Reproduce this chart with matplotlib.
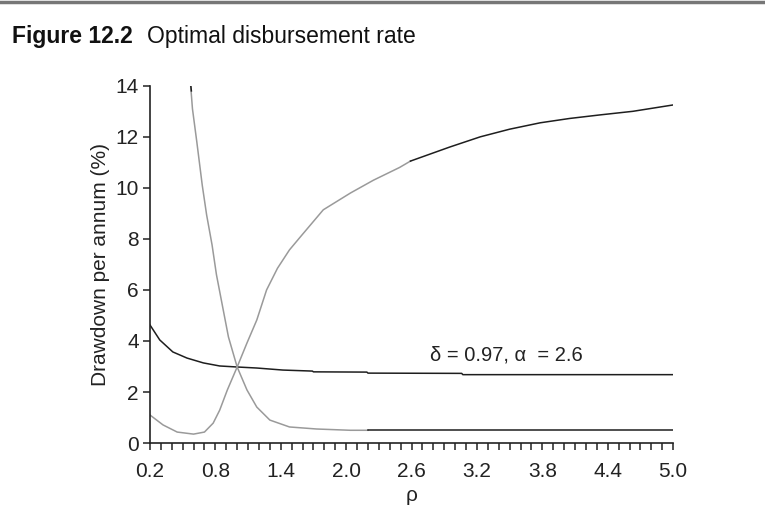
import matplotlib
matplotlib.use("Agg")
import matplotlib.pyplot as plt
from matplotlib.ticker import MultipleLocator, FixedLocator
from matplotlib.lines import Line2D

plt.rcParams['font.family'] = ['Liberation Sans', 'DejaVu Sans']

# Curve A: black, slowly declining (delta curve)
a_x = [0.20, 0.29, 0.41, 0.54, 0.69, 0.84, 1.00, 1.18, 1.42, 1.69, 1.70, 2.19, 2.20, 3.06, 3.07, 5.00]
a_y = [4.63, 4.04, 3.57, 3.33, 3.14, 3.02, 2.98, 2.94, 2.86, 2.82, 2.79, 2.78, 2.74, 2.73, 2.68, 2.68]

# Curve B: steeply declining (gray, then black flat tail)
b_x = [0.57, 0.59, 0.63, 0.68, 0.72, 0.77, 0.81, 0.86, 0.92, 1.00, 1.09, 1.18, 1.30, 1.48, 1.73, 2.04, 2.20]
b_y = [14.2, 13.1, 11.8, 10.1, 8.94, 7.76, 6.60, 5.49, 4.16, 2.98, 2.08, 1.41, 0.90, 0.63, 0.55, 0.50, 0.50]
b_tail_x = [2.20, 5.00]
b_tail_y = [0.50, 0.50]
b_top_x = [0.57, 0.58]
b_top_y = [14.2, 13.8]

# Curve C: U-shaped then rising (gray, then black)
c_x = [0.20, 0.32, 0.45, 0.60, 0.70, 0.78, 0.84, 0.91, 1.00, 1.09, 1.18, 1.27, 1.37, 1.48, 1.58, 1.79, 2.04, 2.25, 2.49, 2.59]
c_y = [1.10, 0.71, 0.43, 0.35, 0.43, 0.78, 1.29, 2.08, 2.98, 3.92, 4.82, 6.00, 6.85, 7.57, 8.08, 9.14, 9.80, 10.30, 10.80, 11.05]
c_tail_x = [2.59, 2.95, 3.23, 3.50, 3.78, 4.05, 4.33, 4.63, 5.00]
c_tail_y = [11.05, 11.60, 12.00, 12.30, 12.55, 12.72, 12.86, 13.00, 13.25]

x_labels = [0.2, 0.8, 1.4, 2.0, 2.6, 3.2, 3.8, 4.4, 5.0]
y_labels = [0, 2, 4, 6, 8, 10, 12, 14]

GRAY = '#9a9a9a'
BLACK = '#1e1e1e'
TXT = '#222222'

fig = plt.figure(figsize=(7.65, 5.2), dpi=100)
ax = fig.add_axes([0.196, 0.148, 0.684, 0.687])

ax.plot(a_x, a_y, color=BLACK, lw=1.1)
ax.plot(b_x, b_y, color=GRAY, lw=1.1)
ax.plot(b_top_x, b_top_y, color=BLACK, lw=1.1)
ax.plot(b_tail_x, b_tail_y, color=BLACK, lw=1.1)
ax.plot(c_x, c_y, color=GRAY, lw=1.1)
ax.plot(c_tail_x, c_tail_y, color=BLACK, lw=1.1)

ax.set_xlim(0.2, 5.0)
ax.set_ylim(0, 14)
ax.xaxis.set_major_locator(FixedLocator(x_labels))
ax.set_xticklabels([f"{v:.1f}" for v in x_labels])
ax.xaxis.set_minor_locator(MultipleLocator(0.1))
ax.yaxis.set_major_locator(FixedLocator(y_labels))
ax.set_yticklabels([str(v) for v in y_labels])

for s in ['top', 'right']:
    ax.spines[s].set_visible(False)
for s in ['left', 'bottom']:
    ax.spines[s].set_linewidth(1.2)
    ax.spines[s].set_color(TXT)

ax.tick_params(axis='both', which='both', direction='out', length=5, width=1.1,
               color=TXT, labelsize=15, labelcolor=TXT, pad=3)
ax.tick_params(axis='x', which='major', pad=9)
ax.tick_params(axis='y', which='minor', left=False)

ax.set_xlabel('ρ', fontsize=15, color=TXT, labelpad=3)
ax.set_ylabel('Drawdown per annum (%)', fontsize=15, color=TXT, labelpad=4)

ax.text(3.47, 3.45, 'δ = 0.97, α  = 2.6', fontsize=14.5, color=TXT,
        ha='center', va='center')

fig.text(12 / 765, 1 - 43 / 520, 'Figure 12.2', fontsize=16.5, fontweight='bold',
         color='#111111', ha='left', va='baseline')
fig.text(147 / 765, 1 - 43 / 520, 'Optimal disbursement rate', fontsize=16.5,
         color='#111111', ha='left', va='baseline')

fig.add_artist(Line2D([0, 1], [0.996, 0.996], transform=fig.transFigure,
                      color='#777777', lw=2.5))

fig.savefig('out.png', dpi=100)
